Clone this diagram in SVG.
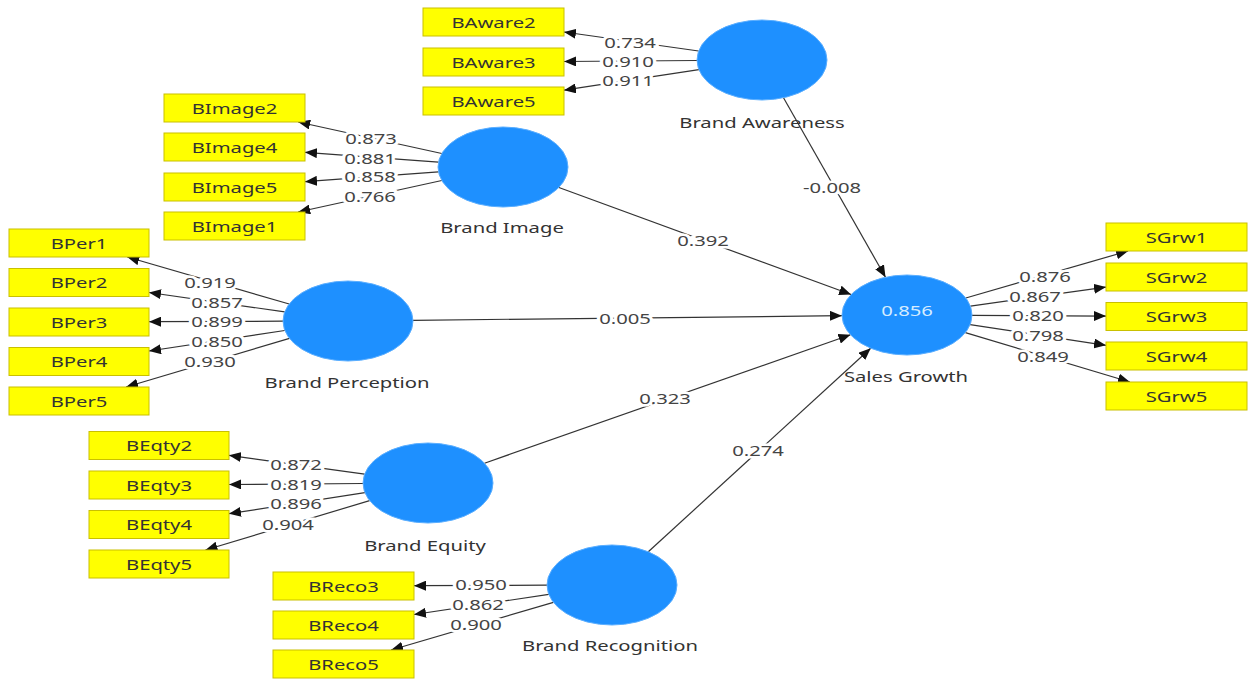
<svg xmlns="http://www.w3.org/2000/svg" width="1248" height="680" viewBox="0 0 1248 680">
<defs>
<marker id="ah" markerUnits="userSpaceOnUse" markerWidth="12" markerHeight="10" refX="12" refY="5" orient="auto"><path d="M0,0 L12,5 L0,10 z" fill="#111"/></marker>
<style>
.bg{fill:#fff}
.box{fill:#ffff00;stroke:#c9c000;stroke-width:1}
.lv{fill:#1e90ff;stroke:#5aaeff;stroke-width:1}
.t{font-family:"Noto Sans","Open Sans",sans-serif;font-size:15px;fill:#333;text-anchor:middle;dominant-baseline:central}
.lbl{font-family:"Noto Sans","Open Sans",sans-serif;font-size:15px;fill:#444;text-anchor:middle;dominant-baseline:central;stroke:#fff;stroke-width:5;paint-order:stroke}
.r2{font-family:"Noto Sans","Open Sans",sans-serif;font-size:15px;fill:#d6ecff;text-anchor:middle;dominant-baseline:central}
.ln{stroke:#333;stroke-width:1.2;fill:none;marker-end:url(#ah)}
</style>
</defs>
<rect class="bg" width="1248" height="680"/>
<g id="connectors">
<line class="ln" x1="698.6" y1="51" x2="564" y2="32"/>
<line class="ln" x1="697" y1="60.5" x2="564" y2="61.5"/>
<line class="ln" x1="698.9" y1="69.6" x2="564" y2="90.2"/>
<line class="ln" x1="441.8" y1="153.5" x2="298.2" y2="122"/>
<line class="ln" x1="438.5" y1="162.2" x2="305" y2="152.3"/>
<line class="ln" x1="438.5" y1="171.8" x2="305" y2="181.7"/>
<line class="ln" x1="441.8" y1="180.5" x2="298.2" y2="212"/>
<line class="ln" x1="289.2" y1="304" x2="127.3" y2="257"/>
<line class="ln" x1="284.7" y1="311.9" x2="149" y2="292.5"/>
<line class="ln" x1="283" y1="321.2" x2="149" y2="321.7"/>
<line class="ln" x1="284.7" y1="330.5" x2="149" y2="351"/>
<line class="ln" x1="289.5" y1="338.4" x2="126.1" y2="387"/>
<line class="ln" x1="965.8" y1="298" x2="1128.1" y2="251"/>
<line class="ln" x1="970.4" y1="306.1" x2="1106" y2="287.1"/>
<line class="ln" x1="972" y1="315.4" x2="1106" y2="316.1"/>
<line class="ln" x1="970.1" y1="324.6" x2="1106" y2="345.3"/>
<line class="ln" x1="965.4" y1="332.6" x2="1129.9" y2="382"/>
<line class="ln" x1="364.6" y1="474.2" x2="229" y2="455.3"/>
<line class="ln" x1="363" y1="483.5" x2="229" y2="484.5"/>
<line class="ln" x1="364.9" y1="492.7" x2="229" y2="513.7"/>
<line class="ln" x1="369.6" y1="500.6" x2="205.5" y2="550"/>
<line class="ln" x1="547" y1="585.2" x2="414" y2="585.7"/>
<line class="ln" x1="548.8" y1="594.4" x2="414" y2="614.5"/>
<line class="ln" x1="553.4" y1="602.3" x2="391.1" y2="650"/>
<line class="ln" x1="783.5" y1="97.8" x2="885.5" y2="277.2"/>
<line class="ln" x1="558.9" y1="187.5" x2="851.1" y2="294.5"/>
<line class="ln" x1="413" y1="320.3" x2="842" y2="315.7"/>
<line class="ln" x1="484.5" y1="463.2" x2="850.5" y2="334.8"/>
<line class="ln" x1="648.3" y1="551.8" x2="870.7" y2="348.2"/>
<text class="lbl" transform="translate(630 42) scale(1.35 1)">0.734</text>
<text class="lbl" transform="translate(628 61) scale(1.35 1)">0.910</text>
<text class="lbl" transform="translate(628 80.5) scale(1.35 1)">0.911</text>
<text class="lbl" transform="translate(371 138) scale(1.35 1)">0.873</text>
<text class="lbl" transform="translate(370 158) scale(1.35 1)">0.881</text>
<text class="lbl" transform="translate(370 176.5) scale(1.35 1)">0.858</text>
<text class="lbl" transform="translate(370 196) scale(1.35 1)">0.766</text>
<text class="lbl" transform="translate(210 282) scale(1.35 1)">0.919</text>
<text class="lbl" transform="translate(217 302) scale(1.35 1)">0.857</text>
<text class="lbl" transform="translate(217 321.5) scale(1.35 1)">0.899</text>
<text class="lbl" transform="translate(217 341) scale(1.35 1)">0.850</text>
<text class="lbl" transform="translate(210 361.5) scale(1.35 1)">0.930</text>
<text class="lbl" transform="translate(1045 276) scale(1.35 1)">0.876</text>
<text class="lbl" transform="translate(1035 296.5) scale(1.35 1)">0.867</text>
<text class="lbl" transform="translate(1038 315.5) scale(1.35 1)">0.820</text>
<text class="lbl" transform="translate(1038 335) scale(1.35 1)">0.798</text>
<text class="lbl" transform="translate(1043 356) scale(1.35 1)">0.849</text>
<text class="lbl" transform="translate(296 464.5) scale(1.35 1)">0.872</text>
<text class="lbl" transform="translate(296 484) scale(1.35 1)">0.819</text>
<text class="lbl" transform="translate(296 503.5) scale(1.35 1)">0.896</text>
<text class="lbl" transform="translate(288 524) scale(1.35 1)">0.904</text>
<text class="lbl" transform="translate(481 584) scale(1.35 1)">0.950</text>
<text class="lbl" transform="translate(478 604) scale(1.35 1)">0.862</text>
<text class="lbl" transform="translate(476 624.5) scale(1.35 1)">0.900</text>
<text class="lbl" transform="translate(832 187) scale(1.35 1)">-0.008</text>
<text class="lbl" transform="translate(703 240) scale(1.35 1)">0.392</text>
<text class="lbl" transform="translate(625 318) scale(1.35 1)">0.005</text>
<text class="lbl" transform="translate(665 398.5) scale(1.35 1)">0.323</text>
<text class="lbl" transform="translate(758 450) scale(1.35 1)">0.274</text>
</g>
<g id="BrandAwareness"><ellipse class="lv" cx="762" cy="60" rx="65" ry="40"/><text class="t" transform="translate(762 122) scale(1.35 1)">Brand Awareness</text></g>
<g id="BrandImage"><ellipse class="lv" cx="503" cy="167" rx="65" ry="40"/><text class="t" transform="translate(502 227) scale(1.35 1)">Brand Image</text></g>
<g id="BrandPerception"><ellipse class="lv" cx="348" cy="321" rx="65" ry="40"/><text class="t" transform="translate(347 382) scale(1.35 1)">Brand Perception</text></g>
<g id="SalesGrowth"><ellipse class="lv" cx="907" cy="315" rx="65" ry="40"/><text class="r2" transform="translate(907 310) scale(1.35 1)">0.856</text><text class="t" transform="translate(906 376) scale(1.35 1)">Sales Growth</text></g>
<g id="BrandEquity"><ellipse class="lv" cx="428" cy="483" rx="65" ry="40"/><text class="t" transform="translate(425 545) scale(1.35 1)">Brand Equity</text></g>
<g id="BrandRecognition"><ellipse class="lv" cx="612" cy="585" rx="65" ry="40"/><text class="t" transform="translate(610 645) scale(1.35 1)">Brand Recognition</text></g>
<g id="BAware2"><rect class="box" x="423" y="8" width="141" height="28"/><text class="t" transform="translate(493.5 22) scale(1.35 1)">BAware2</text></g>
<g id="BAware3"><rect class="box" x="423" y="48" width="141" height="28"/><text class="t" transform="translate(493.5 62) scale(1.35 1)">BAware3</text></g>
<g id="BAware5"><rect class="box" x="423" y="87" width="141" height="28"/><text class="t" transform="translate(493.5 101) scale(1.35 1)">BAware5</text></g>
<g id="BImage2"><rect class="box" x="164" y="94" width="141" height="28"/><text class="t" transform="translate(234.5 108) scale(1.35 1)">BImage2</text></g>
<g id="BImage4"><rect class="box" x="164" y="133" width="141" height="28"/><text class="t" transform="translate(234.5 147) scale(1.35 1)">BImage4</text></g>
<g id="BImage5"><rect class="box" x="164" y="173" width="141" height="28"/><text class="t" transform="translate(234.5 187) scale(1.35 1)">BImage5</text></g>
<g id="BImage1"><rect class="box" x="164" y="212" width="141" height="28"/><text class="t" transform="translate(234.5 226) scale(1.35 1)">BImage1</text></g>
<g id="BPer1"><rect class="box" x="9" y="229" width="140" height="28"/><text class="t" transform="translate(79 243) scale(1.35 1)">BPer1</text></g>
<g id="BPer2"><rect class="box" x="9" y="268.5" width="140" height="28"/><text class="t" transform="translate(79 282.5) scale(1.35 1)">BPer2</text></g>
<g id="BPer3"><rect class="box" x="9" y="308" width="140" height="28"/><text class="t" transform="translate(79 322) scale(1.35 1)">BPer3</text></g>
<g id="BPer4"><rect class="box" x="9" y="347.5" width="140" height="28"/><text class="t" transform="translate(79 361.5) scale(1.35 1)">BPer4</text></g>
<g id="BPer5"><rect class="box" x="9" y="387" width="140" height="28"/><text class="t" transform="translate(79 401) scale(1.35 1)">BPer5</text></g>
<g id="SGrw1"><rect class="box" x="1106" y="223" width="141" height="28"/><text class="t" transform="translate(1176.5 237) scale(1.35 1)">SGrw1</text></g>
<g id="SGrw2"><rect class="box" x="1106" y="263" width="141" height="28"/><text class="t" transform="translate(1176.5 277) scale(1.35 1)">SGrw2</text></g>
<g id="SGrw3"><rect class="box" x="1106" y="302.5" width="141" height="28"/><text class="t" transform="translate(1176.5 316.5) scale(1.35 1)">SGrw3</text></g>
<g id="SGrw4"><rect class="box" x="1106" y="342" width="141" height="28"/><text class="t" transform="translate(1176.5 356) scale(1.35 1)">SGrw4</text></g>
<g id="SGrw5"><rect class="box" x="1106" y="382" width="141" height="28"/><text class="t" transform="translate(1176.5 396) scale(1.35 1)">SGrw5</text></g>
<g id="BEqty2"><rect class="box" x="89" y="431.5" width="140" height="28"/><text class="t" transform="translate(159 445.5) scale(1.35 1)">BEqty2</text></g>
<g id="BEqty3"><rect class="box" x="89" y="471" width="140" height="28"/><text class="t" transform="translate(159 485) scale(1.35 1)">BEqty3</text></g>
<g id="BEqty4"><rect class="box" x="89" y="510.5" width="140" height="28"/><text class="t" transform="translate(159 524.5) scale(1.35 1)">BEqty4</text></g>
<g id="BEqty5"><rect class="box" x="89" y="550" width="140" height="28"/><text class="t" transform="translate(159 564) scale(1.35 1)">BEqty5</text></g>
<g id="BReco3"><rect class="box" x="273" y="572" width="141" height="28"/><text class="t" transform="translate(343.5 586) scale(1.35 1)">BReco3</text></g>
<g id="BReco4"><rect class="box" x="273" y="611" width="141" height="28"/><text class="t" transform="translate(343.5 625) scale(1.35 1)">BReco4</text></g>
<g id="BReco5"><rect class="box" x="273" y="650" width="141" height="28"/><text class="t" transform="translate(343.5 664) scale(1.35 1)">BReco5</text></g>
</svg>
